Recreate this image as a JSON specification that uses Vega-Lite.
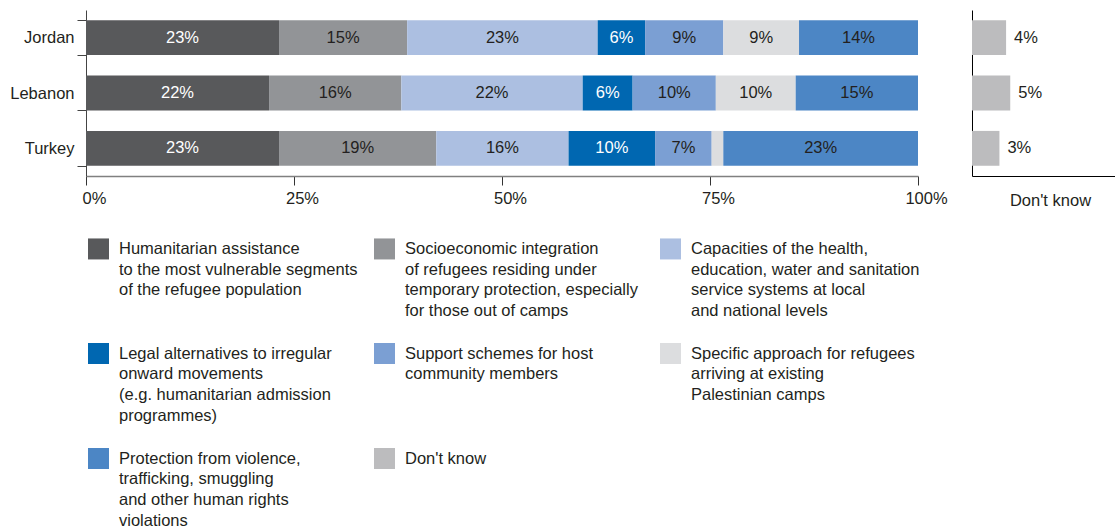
{
  "$schema": "https://vega.github.io/schema/vega-lite/v6.json",
  "background": "white",
  "padding": {"left": 9, "top": 2, "right": 0, "bottom": 5},
  "bounds": "flush",
  "spacing": 54,
  "config": {
    "font": "Liberation Sans",
    "view": {"stroke": null},
    "axis": {"labelFont": "Liberation Sans", "labelFontSize": 16.5, "labelColor": "#231f20", "grid": false, "titleFont": "Liberation Sans", "titleColor": "#231f20", "titleFontWeight": "normal", "titleFontSize": 16.5}
  },
  "datasets": {
    "main": [
      {"country": "Jordan", "idx": 1, "category": "Humanitarian assistance to the most vulnerable segments of the refugee population", "value": 0.232},
      {"country": "Jordan", "idx": 2, "category": "Socioeconomic integration of refugees residing under temporary protection, especially for those out of camps", "value": 0.154},
      {"country": "Jordan", "idx": 3, "category": "Capacities of the health, education, water and sanitation service systems at local and national levels", "value": 0.229},
      {"country": "Jordan", "idx": 4, "category": "Legal alternatives to irregular onward movements (e.g. humanitarian admission programmes)", "value": 0.057},
      {"country": "Jordan", "idx": 5, "category": "Support schemes for host community members", "value": 0.094},
      {"country": "Jordan", "idx": 6, "category": "Specific approach for refugees arriving at existing Palestinian camps", "value": 0.091},
      {"country": "Jordan", "idx": 7, "category": "Protection from violence, trafficking, smuggling and other human rights violations", "value": 0.143},
      {"country": "Lebanon", "idx": 1, "category": "Humanitarian assistance to the most vulnerable segments of the refugee population", "value": 0.22},
      {"country": "Lebanon", "idx": 2, "category": "Socioeconomic integration of refugees residing under temporary protection, especially for those out of camps", "value": 0.159},
      {"country": "Lebanon", "idx": 3, "category": "Capacities of the health, education, water and sanitation service systems at local and national levels", "value": 0.218},
      {"country": "Lebanon", "idx": 4, "category": "Legal alternatives to irregular onward movements (e.g. humanitarian admission programmes)", "value": 0.06},
      {"country": "Lebanon", "idx": 5, "category": "Support schemes for host community members", "value": 0.1},
      {"country": "Lebanon", "idx": 6, "category": "Specific approach for refugees arriving at existing Palestinian camps", "value": 0.096},
      {"country": "Lebanon", "idx": 7, "category": "Protection from violence, trafficking, smuggling and other human rights violations", "value": 0.147},
      {"country": "Turkey", "idx": 1, "category": "Humanitarian assistance to the most vulnerable segments of the refugee population", "value": 0.232},
      {"country": "Turkey", "idx": 2, "category": "Socioeconomic integration of refugees residing under temporary protection, especially for those out of camps", "value": 0.189},
      {"country": "Turkey", "idx": 3, "category": "Capacities of the health, education, water and sanitation service systems at local and national levels", "value": 0.159},
      {"country": "Turkey", "idx": 4, "category": "Legal alternatives to irregular onward movements (e.g. humanitarian admission programmes)", "value": 0.104},
      {"country": "Turkey", "idx": 5, "category": "Support schemes for host community members", "value": 0.068},
      {"country": "Turkey", "idx": 6, "category": "Specific approach for refugees arriving at existing Palestinian camps", "value": 0.014},
      {"country": "Turkey", "idx": 7, "category": "Protection from violence, trafficking, smuggling and other human rights violations", "value": 0.234}
    ],
    "dk": [
      {"country": "Jordan", "category": "Don't know", "value": 0.041},
      {"country": "Lebanon", "category": "Don't know", "value": 0.046},
      {"country": "Turkey", "category": "Don't know", "value": 0.033}
    ]
  },
  "resolve": {"scale": {"color": "shared", "x": "independent", "y": "independent"}, "legend": {"color": "shared"}},
  "hconcat": [
    {
      "width": 832,
      "height": 166,
      "data": {"name": "main"},
      "encoding": {
        "y": {"field": "country", "type": "nominal", "sort": ["Jordan", "Lebanon", "Turkey"],
          "scale": {"paddingInner": 0.37, "paddingOuter": 0.185},
          "axis": {"title": null, "tickBand": "extent", "tickSize": 9, "domainColor": "#444", "tickColor": "#444", "labelPadding": 3}}
      },
      "layer": [
        {
          "mark": {"type": "bar"},
          "encoding": {
            "x": {"field": "value", "type": "quantitative", "stack": "zero", "scale": {"domain": [0, 1], "nice": false},
              "axis": {"title": null, "format": ".0%", "values": [0, 0.25, 0.5, 0.75, 1], "tickSize": 9, "domainColor": "#808080", "domainWidth": 1.5, "tickColor": "#333", "labelPadding": 5, "labelOffset": 8, "labelFlush": false}},
            "color": {"field": "category", "type": "nominal",
              "scale": {
                "domain": [
                  "Humanitarian assistance to the most vulnerable segments of the refugee population",
                  "Socioeconomic integration of refugees residing under temporary protection, especially for those out of camps",
                  "Capacities of the health, education, water and sanitation service systems at local and national levels",
                  "Legal alternatives to irregular onward movements (e.g. humanitarian admission programmes)",
                  "Support schemes for host community members",
                  "Specific approach for refugees arriving at existing Palestinian camps",
                  "Protection from violence, trafficking, smuggling and other human rights violations",
                  "Don't know"
                ],
                "range": ["#58595b", "#929497", "#acbfe1", "#0067b1", "#7b9fd3", "#dcdddf", "#4c86c5", "#bcbcbe"]
              },
              "legend": {
                "orient": "none", "legendX": 2, "legendY": 228, "direction": "horizontal", "columns": 3, "title": null,
                "symbolType": "square", "symbolSize": 441, "symbolStrokeWidth": 0, "symbolOpacity": 1,
                "labelFont": "Liberation Sans", "labelFontSize": 16.5, "labelColor": "#231f20", "labelLimit": 0, "labelOffset": 10,
                "gridAlign": "all", "columnPadding": 16, "rowPadding": 23,
                "labelExpr": "indexof(datum.label,'Humanitarian')==0 ? ['Humanitarian assistance','to the most vulnerable segments','of the refugee population',' '] : indexof(datum.label,'Socioeconomic')==0 ? ['Socioeconomic integration','of refugees residing under','temporary protection, especially','for those out of camps'] : indexof(datum.label,'Capacities')==0 ? ['Capacities of the health,','education, water and sanitation','service systems at local','and national levels'] : indexof(datum.label,'Legal')==0 ? ['Legal alternatives to irregular','onward movements','(e.g. humanitarian admission','programmes)'] : indexof(datum.label,'Support')==0 ? ['Support schemes for host','community members'] : indexof(datum.label,'Specific')==0 ? ['Specific approach for refugees','arriving at existing','Palestinian camps'] : indexof(datum.label,'Protection')==0 ? ['Protection from violence,','trafficking, smuggling','and other human rights','violations'] : datum.label",
                "encoding": {"labels": {"lineHeight": {"value": 20.7}}}
              }
            },
            "order": {"field": "idx", "type": "quantitative"}
          }
        },
        {
          "mark": {"type": "text", "fontSize": 16.5, "font": "Liberation Sans"},
          "encoding": {
            "x": {"field": "value", "type": "quantitative", "stack": "zero", "bandPosition": 0.5},
            "detail": {"field": "category"},
            "order": {"field": "idx", "type": "quantitative"},
            "text": {"field": "value", "type": "quantitative", "format": ".0%"},
            "color": {"condition": {"test": "indexof(datum.category,'Humanitarian')==0 || indexof(datum.category,'Legal')==0", "value": "#ffffff"}, "value": "#231f20"},
            "opacity": {"condition": {"test": "datum.value < 0.03", "value": 0}, "value": 1}
          }
        }
      ]
    },
    {
      "width": 143,
      "height": 166,
      "data": {"name": "dk"},
      "encoding": {
        "y": {"field": "country", "type": "nominal", "sort": ["Jordan", "Lebanon", "Turkey"],
          "scale": {"paddingInner": 0.37, "paddingOuter": 0.185},
          "axis": {"title": null, "labels": false, "ticks": false, "domainColor": "#000", "domainWidth": 1}},
        "x": {"field": "value", "type": "quantitative", "scale": {"domain": [0, 0.172], "nice": false},
          "axis": {"title": "Don't know", "labels": false, "ticks": false, "domainColor": "#000", "domainWidth": 1, "titlePadding": 16, "titleX": 78}}
      },
      "layer": [
        {"mark": {"type": "bar"}, "encoding": {"color": {"field": "category", "type": "nominal"}}},
        {"mark": {"type": "text", "align": "left", "dx": 8, "fontSize": 16.5, "font": "Liberation Sans", "color": "#231f20"},
          "encoding": {"text": {"field": "value", "type": "quantitative", "format": ".0%"}}}
      ]
    }
  ]
}
